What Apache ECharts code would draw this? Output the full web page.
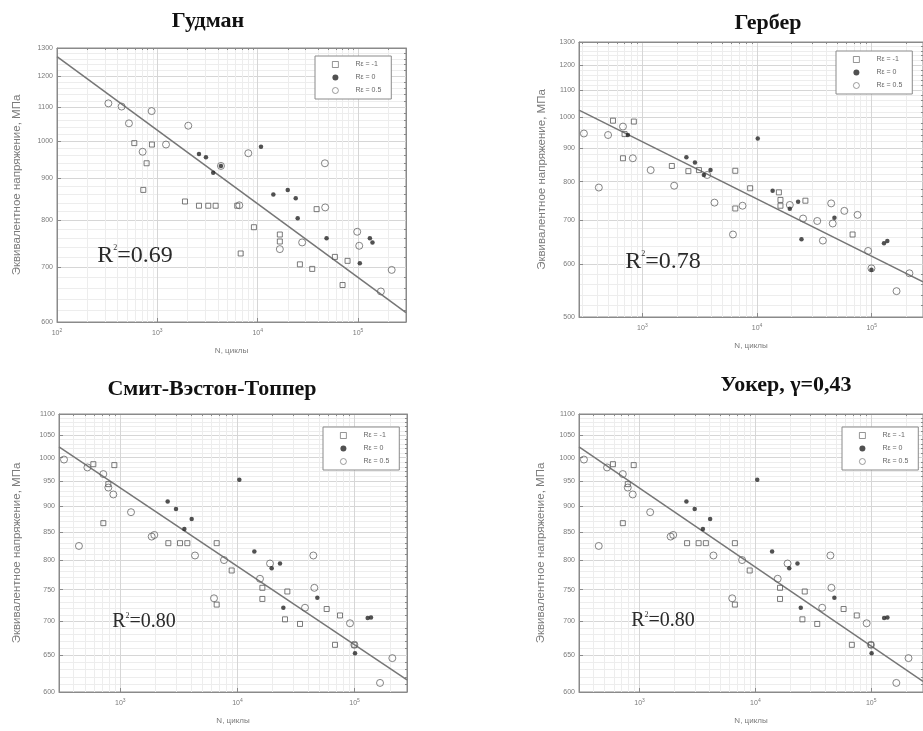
<!DOCTYPE html>
<html>
<head>
<meta charset="utf-8">
<script src="https://cdn.jsdelivr.net/npm/echarts@6/dist/echarts.min.js"></script>
<style>
  html, body { margin: 0; padding: 0; background: #fff; }
  #chart { width: 923px; height: 731px; }
</style>
</head>
<body>
<div id="chart"></div>
<script>
// S-N data: [N cycles, equivalent stress MPa]
const goodmanSq = [[589,994],[883,990],[781,939],[724,871],[1884,843],[2597,833],[3214,833],[3806,833],[6250,833],[9160,784],[6760,728],[16600,768],[16600,753],[26300,706],[34900,697],[38600,825],[58700,721],[78500,713],[70000,666]];
const goodmanStar = [[2597,964],[3048,955],[4300,932],[3600,914],[10770,984],[14300,860],[19900,871],[23900,851],[25000,804],[48500,760],[131000,760],[139000,751],[104000,708]];
const goodmanCirc = [[325,1112],[440,1102],[877,1088],[521,1051],[2032,1044],[1219,990],[713,970],[8054,966],[46700,939],[47000,829],[6550,834],[27700,751],[98000,774],[102600,744],[216000,695],[168600,654],[16600,737],[4300,932]];
const goodmanFit = [[100,1269],[300000,616]];

const gerberSq = [[554,989],[842,986],[699,944],[677,868],[1806,845],[2517,830],[3113,833],[6458,831],[8706,782],[15500,771],[16000,751],[16000,736],[26400,749],[68100,666],[6458,729]];
const gerberStar = [[747,941],[2419,871],[2873,855],[3438,819],[3926,833],[10140,930],[13670,775],[19300,728],[22800,746],[24400,655],[47300,706],[99400,589],[127900,646],[136700,651]];
const gerberCirc = [[309,946],[502,941],[677,969],[417,784],[825,868],[1181,833],[1892,789],[4252,744],[7472,736],[6166,666],[3674,819],[19300,738],[33500,698],[44300,742],[57700,723],[75200,713],[45700,692],[37500,652],[93000,629],[164600,547],[213200,582],[25200,704],[99400,592]];
const gerberFit = [[280,1026],[280000,565]];

const swtSq = [[589,986],[890,984],[717,867],[791,944],[2572,830],[3235,830],[3736,830],[6650,830],[8930,782],[16320,753],[16320,735],[26670,747],[25470,703],[34200,696],[57770,719],[75060,709],[68060,665],[99500,665],[6650,726]];
const swtStar = [[10380,953],[2538,909],[2991,894],[4068,875],[3523,856],[13940,815],[19600,786],[23080,794],[24650,721],[48080,737],[100800,653],[129300,705],[138000,706]];
const swtCirc = [[331,996],[524,979],[717,965],[791,937],[873,923],[444,825],[1235,888],[1854,842],[1953,845],[4344,808],[7680,800],[6308,736],[18970,794],[44440,808],[45330,753],[37730,721],[91340,697],[99500,665],[209900,646],[164800,612],[15580,768]];
const swtFit = [[300,1024],[280000,616]];

// Walker panel shows the same points as SWT
const walkerSq = swtSq, walkerStar = swtStar, walkerCirc = swtCirc;
const walkerFit = [[300,1024],[280000,614]];

const seriesNames = ['Rε = -1', 'Rε = 0', 'Rε = 0.5'];
const xTicks = [100, 1000, 10000, 100000];
const yTicksGoodman = [600, 700, 800, 900, 1000, 1100, 1200, 1300];
const yTicksGerber = [500, 600, 700, 800, 900, 1000, 1100, 1200, 1300];
const yTicksBottom = [600, 650, 700, 750, 800, 850, 900, 950, 1000, 1050, 1100];

const SANS = '"Liberation Sans", Arial, sans-serif';
const SERIF = '"Liberation Serif", "Times New Roman", serif';
const AX = '#8a8a8a', LBL = '#7a7a7a';

const panels = [
  { title: 'Гудман', tx: 208, ty: 10, box: [57, 48, 349, 274], x: [100, 300000], y: [600, 1300],
    yTicks: yTicksGoodman, yStep: 20, sq: goodmanSq, st: goodmanStar, ci: goodmanCirc, fit: goodmanFit,
    r2: '0.69', r2x: 135, r2y: 256, r2size: 24, leg: [315, 56], yGap: 34 },
  { title: 'Гербер', tx: 768, ty: 12, box: [579, 42, 347, 275], x: [280, 280000], y: [500, 1300],
    yTicks: yTicksGerber, yStep: 20, sq: gerberSq, st: gerberStar, ci: gerberCirc, fit: gerberFit,
    r2: '0.78', r2x: 663, r2y: 262, r2size: 24, leg: [836, 51], yGap: 31 },
  { title: 'Смит-Вэстон-Топпер', tx: 212, ty: 378, box: [59, 414, 348, 278], x: [300, 280000], y: [600, 1100],
    yTicks: yTicksBottom, yStep: 10, sq: swtSq, st: swtStar, ci: swtCirc, fit: swtFit,
    r2: '0.80', r2x: 144, r2y: 622, r2size: 20, leg: [323, 427], yGap: 36 },
  { title: 'Уокер, γ=0,43', tx: 786, ty: 374, box: [579, 414, 348, 278], x: [300, 280000], y: [600, 1100],
    yTicks: yTicksBottom, yStep: 10, sq: walkerSq, st: walkerStar, ci: walkerCirc, fit: walkerFit,
    r2: '0.80', r2x: 663, r2y: 621, r2size: 20, leg: [842, 427], yGap: 32 },
];

// minor grid positions (2..9 x decade, and small stress steps)
function xMinorVals(lo, hi) {
  const out = [];
  for (let d = 1; d <= 6; d++) for (let k = 2; k <= 9; k++) {
    const v = k * Math.pow(10, d);
    if (v > lo && v < hi) out.push(v);
  }
  return out;
}
function yMinorVals(p) {
  const out = [];
  for (let v = p.y[0]; v < p.y[1]; v += p.yStep) if (p.yTicks.indexOf(v) < 0) out.push(v);
  return out;
}

const option = {
  animation: false, backgroundColor: '#fff',
  grid: [], xAxis: [], yAxis: [], legend: [], series: [], graphic: [],
};

panels.forEach((p, i) => {
  option.grid.push({ left: p.box[0], top: p.box[1], width: p.box[2], height: p.box[3],
    show: true, backgroundColor: '#fff', borderColor: AX, borderWidth: 1 });

  option.xAxis[i] = {
    type: 'log', logBase: 10, gridIndex: i, min: p.x[0], max: p.x[1], position: 'bottom',
    name: 'N, циклы', nameLocation: 'middle', nameGap: 25,
    nameTextStyle: { fontSize: 8, color: LBL, fontFamily: SANS },
    axisLine: { lineStyle: { color: AX } },
    axisTick: { inside: true, length: 4, customValues: xTicks, lineStyle: { color: AX } },
    axisLabel: { customValues: xTicks, color: LBL, fontSize: 7, fontFamily: SANS, margin: 6,
      formatter: (v) => '10{s|' + Math.round(Math.log10(v)) + '}',
      rich: { s: { fontSize: 5, fontFamily: SANS, color: LBL, verticalAlign: 'top', padding: [0, 0, 5, 0] } } },
    splitLine: { show: true, lineStyle: { color: '#d6d6d6' } },
  };
  option.yAxis[i] = {
    type: 'log', logBase: 10, gridIndex: i, min: p.y[0], max: p.y[1], position: 'left',
    name: 'Эквивалентное напряжение, МПа', nameLocation: 'middle', nameGap: p.yGap,
    nameTextStyle: { fontSize: 11.5, color: LBL, fontFamily: SANS },
    axisLine: { lineStyle: { color: AX } },
    axisTick: { inside: true, length: 4, customValues: p.yTicks, lineStyle: { color: AX } },
    axisLabel: { customValues: p.yTicks, color: LBL, fontSize: 7, fontFamily: SANS, margin: 4,
      formatter: (v) => String(Math.round(v)) },
    splitLine: { show: true, lineStyle: { color: '#d6d6d6' } },
  };
  // light minor grid on a twin axis pair (top / right)
  option.xAxis[4 + i] = {
    type: 'log', logBase: 10, gridIndex: i, min: p.x[0], max: p.x[1], position: 'top',
    axisLine: { lineStyle: { color: AX } },
    axisTick: { inside: true, length: 2, customValues: xMinorVals(p.x[0], p.x[1]), lineStyle: { color: AX } },
    axisLabel: { show: false },
    splitLine: { show: true, lineStyle: { color: '#ededed' } },
  };
  option.yAxis[4 + i] = {
    type: 'log', logBase: 10, gridIndex: i, min: p.y[0], max: p.y[1], position: 'right',
    axisLine: { lineStyle: { color: AX } },
    axisTick: { inside: true, length: 2, customValues: yMinorVals(p), lineStyle: { color: AX } },
    axisLabel: { show: false },
    splitLine: { show: true, lineStyle: { color: '#ededed' } },
  };

  option.series.push(
    { type: 'line', xAxisIndex: i, yAxisIndex: i, data: p.fit, showSymbol: false, silent: true,
      lineStyle: { color: '#767676', width: 1.5 }, z: 2 },
    { name: seriesNames[0], type: 'scatter', xAxisIndex: i, yAxisIndex: i, data: p.sq,
      symbol: 'rect', symbolSize: 5, itemStyle: { color: 'rgba(255,255,255,0)', borderColor: '#5a5a5a', borderWidth: 1 }, z: 3 },
    { name: seriesNames[1], type: 'scatter', xAxisIndex: i, yAxisIndex: i, data: p.st,
      symbol: 'circle', symbolSize: 4.5, itemStyle: { color: '#262626' }, z: 4 },
    { name: seriesNames[2], type: 'scatter', xAxisIndex: i, yAxisIndex: i, data: p.ci,
      symbol: 'circle', symbolSize: 7, itemStyle: { color: 'rgba(255,255,255,0)', borderColor: '#666', borderWidth: 1 }, z: 3 }
  );

  option.legend.push({
    left: p.leg[0], top: p.leg[1], orient: 'vertical', selectedMode: false,
    data: seriesNames, itemWidth: 6, itemHeight: 6, itemGap: 6, padding: [5, 10, 5, 17],
    borderColor: AX, borderWidth: 1, backgroundColor: '#fff',
    itemStyle: { borderWidth: 0.8 },
    textStyle: { fontSize: 7, color: '#666', fontFamily: SANS, padding: [0, 0, 0, 12] },
  });

  option.graphic.push(
    { type: 'text', x: p.tx, y: p.ty, style: { text: p.title, fontSize: 22, fontWeight: 'bold',
      fontFamily: SERIF, fill: '#111', align: 'center', verticalAlign: 'top' } },
    { type: 'text', x: p.r2x, y: p.r2y, z: 10, style: { text: 'R{s|2}=' + p.r2, fontSize: p.r2size,
      fontFamily: SERIF, fill: '#2a2a2a', align: 'center', verticalAlign: 'middle',
      rich: { s: { fontSize: 8, fontFamily: SERIF, fill: '#2a2a2a', verticalAlign: 'top' } } } }
  );
});

const chart = echarts.init(document.getElementById('chart'));
chart.setOption(option);
</script>
</body>
</html>
